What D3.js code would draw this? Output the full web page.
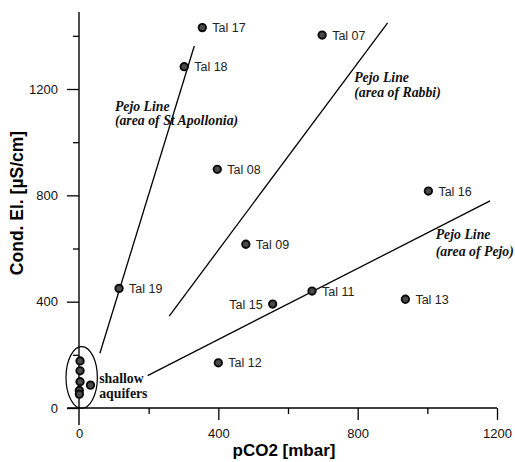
<!DOCTYPE html>
<html>
<head>
<meta charset="utf-8">
<script src="https://cdn.jsdelivr.net/npm/d3@7"></script>
<style>
  body { margin: 0; background: #fff; }
  svg { display: block; }
  .tick text { font-family: "Liberation Sans", Arial, sans-serif; font-size: 13px; fill: #111; }
  .tick line { stroke: #000; stroke-width: 1.3; }
</style>
</head>
<body>
<svg id="chart" width="515" height="462"></svg>
<script>
// samples: name, pCO2 [mbar], conductivity [uS/cm]
var names = ["Tal 17", "Tal 18", "Tal 07", "Tal 08", "Tal 16", "Tal 09", "Tal 19", "Tal 15", "Tal 11", "Tal 13", "Tal 12"];
var pco2  = [354, 302, 698, 397, 1003, 479, 115, 556, 669, 937, 400];
var cond  = [1431, 1284, 1403, 898, 816, 616, 450, 391, 440, 409, 170];

// shallow aquifer samples (unlabelled)
var shallowX = [3, 3, 3, 1, 1, 33];
var shallowY = [177, 140, 99, 66, 52, 86];

// Pejo lines: [x0, y0, x1, y1]
var lineNames = ["St Apollonia", "Rabbi", "Pejo"];
var lineEnds = [[60, 206, 331, 1362], [259, 346, 886, 1449], [197, 122, 1180, 779]];

var xTicks = [0, 400, 800, 1200];
var xMinor = [200, 600, 1000];
var yTicks = [0, 400, 800, 1200];
var yMinor = [200, 600, 1000, 1400];

function makeChart() {
    var svg = d3.select("#chart");
    var scX = d3.scaleLinear().domain([0, 1200]).range([79, 497]);
    var scY = d3.scaleLinear().domain([0, 1200]).range([408, 89]);
    var x0 = scX(0), y0 = scY(0);

    // axis lines (they cross a little past the origin)
    svg.append("line")
        .attr("x1", x0).attr("x2", x0)
        .attr("y1", scY(1490)).attr("y2", scY(-64))
        .attr("stroke", "#000").attr("stroke-width", 1.4);
    svg.append("line")
        .attr("x1", scX(-34)).attr("x2", scX(1200))
        .attr("y1", y0).attr("y2", y0)
        .attr("stroke", "#000").attr("stroke-width", 1.4);

    var yAxis = svg.append("g")
        .attr("transform", "translate(" + x0 + ",0)")
        .call(d3.axisLeft(scY).tickValues(yTicks).tickSize(12).tickPadding(9).tickFormat(d3.format("d")));
    yAxis.select(".domain").remove();
    svg.append("g")
        .attr("transform", "translate(" + x0 + ",0)")
        .call(d3.axisLeft(scY).tickValues(yMinor).tickSize(6).tickFormat(""))
        .select(".domain").remove();

    var xAxis = svg.append("g")
        .attr("transform", "translate(0," + y0 + ")")
        .call(d3.axisBottom(scX).tickValues(xTicks).tickSize(12).tickPadding(9).tickFormat(d3.format("d")));
    xAxis.select(".domain").remove();
    xAxis.selectAll(".tick").filter(d => d == 0).select("line").remove();
    svg.append("g")
        .attr("transform", "translate(0," + y0 + ")")
        .call(d3.axisBottom(scX).tickValues(xMinor).tickSize(6).tickFormat(""))
        .select(".domain").remove();

    // axis titles
    svg.append("text")
        .attr("x", 284).attr("y", 456)
        .attr("text-anchor", "middle")
        .style("font-family", "'Liberation Sans', Arial, sans-serif")
        .style("font-weight", "bold").style("font-size", "17px")
        .text("pCO2 [mbar]");
    svg.append("text")
        .attr("transform", "translate(23,203) rotate(-90)")
        .attr("text-anchor", "middle")
        .style("font-family", "'Liberation Sans', Arial, sans-serif")
        .style("font-weight", "bold").style("font-size", "17.5px")
        .text("Cond. El. [\u00b5S/cm]");

    // Pejo lines
    svg.append("g").selectAll("line")
        .data(lineEnds).enter().append("line")
        .attr("x1", d => scX(d[0])).attr("y1", d => scY(d[1]))
        .attr("x2", d => scX(d[2])).attr("y2", d => scY(d[3]))
        .attr("stroke", "#000").attr("stroke-width", 1.3);

    // ellipse round the shallow aquifers
    svg.append("ellipse")
        .attr("cx", scX(7.7)).attr("cy", scY(115))
        .attr("rx", scX(45) - scX(0)).attr("ry", scY(0) - scY(116))
        .attr("fill", "none").attr("stroke", "#000").attr("stroke-width", 1.2);

    var serif = "'Liberation Serif', 'Times New Roman', serif";
    var lineLabels = [[103, 1117], [790, 1227], [1024, 636]];
    var lineLabelGap = [14, 15, 17];
    lineLabels.forEach(function(p, i) {
        var t = svg.append("text")
            .attr("x", scX(p[0])).attr("y", scY(p[1]))
            .style("font-family", serif).style("font-style", "italic")
            .style("font-weight", "bold").style("font-size", "13.8px").attr("fill", "#111");
        t.append("tspan").text("Pejo Line");
        t.append("tspan").attr("x", scX(p[0])).attr("dy", lineLabelGap[i])
            .text("(area of " + lineNames[i] + ")");
    });

    var sh = svg.append("text")
        .attr("x", scX(58)).attr("y", scY(93))
        .style("font-family", serif).style("font-weight", "bold")
        .style("font-size", "13.8px").attr("fill", "#111");
    sh.append("tspan").text("shallow");
    sh.append("tspan").attr("x", scX(58)).attr("dy", 15).text("aquifers");

    // points
    var pts = d3.range(names.length).map(i => [pco2[i], cond[i], names[i]]);
    var shallow = d3.range(shallowX.length).map(i => [shallowX[i], shallowY[i]]);
    svg.append("g").selectAll("circle")
        .data(pts.concat(shallow)).enter().append("circle")
        .attr("r", 3.7)
        .attr("fill", "#4a4a4a").attr("stroke", "#0a0a0a").attr("stroke-width", 1.9)
        .attr("cx", d => scX(d[0]))
        .attr("cy", d => scY(d[1]));

    var leftLabels = ["Tal 15"];
    svg.append("g").selectAll("text")
        .data(pts).enter().append("text")
        .attr("x", d => scX(d[0]) + (leftLabels.includes(d[2]) ? -10 : 10))
        .attr("y", d => scY(d[1]) + 4.5)
        .attr("text-anchor", d => leftLabels.includes(d[2]) ? "end" : "start")
        .style("font-family", "'Liberation Sans', Arial, sans-serif")
        .style("font-size", "12.5px").attr("fill", "#222")
        .text(d => d[2]);
}

makeChart();
</script>
</body>
</html>
